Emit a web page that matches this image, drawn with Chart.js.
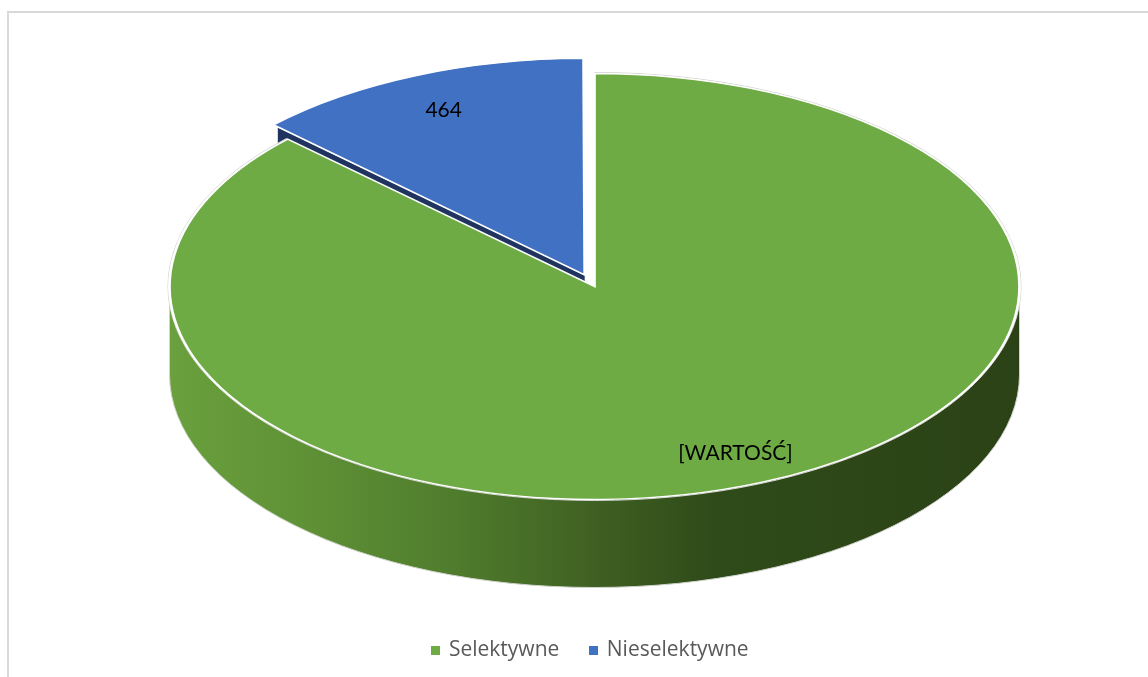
<!DOCTYPE html>
<html>
<head>
<meta charset="utf-8">
<script src="https://cdn.jsdelivr.net/npm/chart.js@4"></script>
<style>
  html, body { margin: 0; padding: 0; background: #fff; overflow: hidden; }
  #frame { position: absolute; left: 7px; top: 11px; width: 1200px; height: 700px; border: 2px solid #d9d9d9; box-sizing: border-box; }
  #myChart { position: absolute; left: 0; top: 0; }
</style>
</head>
<body>
<div id="frame"></div>
<canvas id="myChart" width="1148" height="677"></canvas>
<script>
var categories = ['Selektywne', 'Nieselektywne'];
var values = [3150, 464];
var valueLabels = ['[WARTOŚĆ]', '464'];
var colors = ['#6eab45', '#4171c3'];

// where the squashed pie ends up on the page
var pieX = 594.5;
var pieY = 286.5;
var pieRx = 425;
var pieRy = 213;
var depth = 88;

function projector(arc) {
    var sx = pieRx / arc.outerRadius;
    var sy = pieRy / arc.outerRadius;
    var mid = (arc.startAngle + arc.endAngle) / 2;
    var shift = (arc.options.offset || 0) / 4;
    return function (angle, ratio) {
        return {
            x: pieX + (Math.cos(angle) * arc.outerRadius * ratio + Math.cos(mid) * shift) * sx,
            y: pieY + (Math.sin(angle) * arc.outerRadius * ratio + Math.sin(mid) * shift) * sy
        };
    };
}

// legend marker, a small canvas so the gap to the text can be tighter
function swatch(color) {
    var c = document.createElement('canvas');
    c.width = 9;
    c.height = 9;
    var g = c.getContext('2d');
    g.fillStyle = color;
    g.fillRect(0, 0, 9, 9);
    return c;
}

var pie3d = {
    id: 'pie3d',
    beforeDatasetsDraw: function (chart) {
        var ctx = chart.ctx;
        var arcs = chart.getDatasetMeta(0).data;
        var green = arcs[0];
        var blue = arcs[1];

        // side of the pulled out slice, mostly hidden by the big one
        var p = projector(blue);
        var a = p(blue.startAngle, 0);
        var b = p(blue.startAngle, 1);
        ctx.save();
        ctx.fillStyle = '#1f3560';
        ctx.beginPath();
        ctx.moveTo(a.x, a.y);
        ctx.lineTo(b.x, b.y);
        ctx.lineTo(b.x, b.y + depth);
        ctx.lineTo(a.x, a.y + depth);
        ctx.closePath();
        ctx.fill();

        // outer wall
        var grad = ctx.createLinearGradient(pieX - pieRx, 0, pieX + pieRx, 0);
        grad.addColorStop(0, '#6aa03d');
        grad.addColorStop(0.16, '#5f9136');
        grad.addColorStop(0.33, '#507d2d');
        grad.addColorStop(0.5, '#3f6022');
        grad.addColorStop(0.64, '#2f4b19');
        grad.addColorStop(1, '#2b4216');
        ctx.fillStyle = grad;
        ctx.beginPath();
        ctx.ellipse(pieX, pieY, pieRx, pieRy, 0, 0, Math.PI);
        ctx.ellipse(pieX, pieY + depth, pieRx, pieRy, 0, Math.PI, 0, true);
        ctx.closePath();
        ctx.fill();

        // thin grey rim
        ctx.strokeStyle = '#d0d3cc';
        ctx.lineWidth = 1;
        ctx.beginPath();
        ctx.ellipse(pieX, pieY + depth, pieRx, pieRy, 0, 0, Math.PI);
        ctx.moveTo(pieX - pieRx, pieY);
        ctx.lineTo(pieX - pieRx, pieY + depth);
        ctx.moveTo(pieX + pieRx, pieY);
        ctx.lineTo(pieX + pieRx, pieY + depth);
        ctx.stroke();
        ctx.beginPath();
        ctx.ellipse(pieX, pieY, pieRx + 1.5, pieRy + 1, 0, green.startAngle, green.endAngle);
        ctx.stroke();
        ctx.restore();

        // squash the pie itself, arcs are drawn by the library
        ctx.save();
        ctx.translate(pieX, pieY);
        ctx.scale(pieRx / green.outerRadius, pieRy / green.outerRadius);
        ctx.translate(-green.x, -green.y);
    },
    afterDatasetsDraw: function (chart) {
        var ctx = chart.ctx;
        ctx.restore();

        var arcs = chart.getDatasetMeta(0).data;
        ctx.save();
        ctx.font = '21px Lato';
        ctx.fillStyle = '#000';
        ctx.textAlign = 'center';
        ctx.textBaseline = 'middle';
        arcs.forEach(function (arc, i) {
            var pos = projector(arc)((arc.startAngle + arc.endAngle) / 2, 0.845);
            ctx.fillText(valueLabels[i], pos.x, pos.y + 1);
        });
        ctx.restore();
    }
};

var ctx = document.getElementById('myChart').getContext('2d');
var myChart = new Chart(ctx, {
    type: 'pie',
    data: {
        labels: categories,
        datasets: [{
            data: values,
            backgroundColor: colors,
            borderColor: '#ffffff',
            borderWidth: 1.7,
            borderJoinStyle: 'miter',
            offset: [0, 64],
            clip: false
        }]
    },
    options: {
        responsive: false,
        animation: false,
        layout: { padding: { top: 0, bottom: 6, left: 34 } },
        plugins: {
            tooltip: { enabled: false },
            legend: {
                position: 'bottom',
                labels: {
                    usePointStyle: true,
                    pointStyleWidth: 5,
                    boxHeight: 10,
                    padding: 32,
                    color: '#595959',
                    font: { family: 'Open Sans', size: 21 },
                    generateLabels: function (chart) {
                        var items = Chart.controllers.doughnut.overrides.plugins.legend.labels.generateLabels(chart);
                        items.forEach(function (item, i) {
                            item.pointStyle = swatch(colors[i]);
                        });
                        return items;
                    }
                }
            }
        }
    },
    plugins: [pie3d]
});
</script>
</body>
</html>
